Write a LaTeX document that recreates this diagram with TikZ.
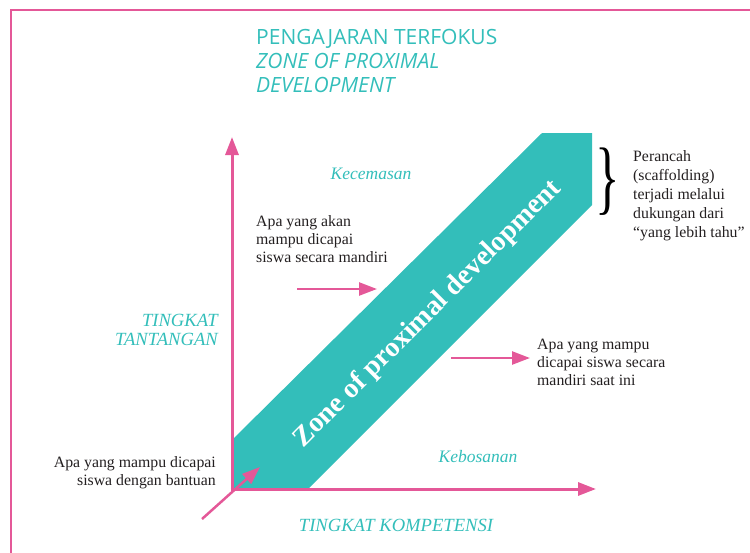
\documentclass[tikz,border=0pt]{standalone}
\usepackage{fontspec}
\setmainfont{Liberation Serif}
\newfontfamily\titlefont{Open Sans}
\usetikzlibrary{arrows.meta}
\definecolor{zpink}{RGB}{228,88,152}
\definecolor{zteal}{RGB}{51,190,186}
\definecolor{ztext}{RGB}{35,31,32}
\begin{document}
\begin{tikzpicture}[x=1pt,y=-1pt,
  axis/.style={draw=zpink,line width=3pt,-{Triangle[length=18pt,width=13pt]}},
  pointer/.style={draw=zpink,line width=2.5pt,-{Triangle[length=18pt,width=13pt]}},
  body/.style={text=ztext,font=\fontsize{15.8}{18}\selectfont,inner sep=0pt},
  tlabel/.style={text=zteal,font=\fontsize{17.5}{18.5}\selectfont\itshape,inner sep=0pt},
  caplabel/.style={text=zteal,font=\fontsize{18.6}{18.5}\selectfont\itshape,inner sep=0pt},
  titletext/.style={text=zteal,font=\titlefont\fontsize{21}{24}\selectfont,inner sep=0pt},
  bandtext/.style={text=white,font=\fontsize{28}{28}\selectfont\bfseries,inner sep=0pt},
]
\useasboundingbox (0,0) rectangle (750,552);
% frame
\draw[zpink,line width=2.5pt] (11,553) -- (11,10) -- (751,10);
% title
\node[titletext,anchor=north west,align=left] (title) at (256,29.5)
  {PENGAJARAN TERFOKUS\\{\itshape ZONE OF PROXIMAL}\\{\itshape DEVELOPMENT}};
% band
\fill[zteal] (232,440) -- (542,133) -- (592,133) -- (592,205) -- (308,489) -- (232,489) -- cycle;
\node[bandtext,rotate=45] (zpd) at (428,314) {Zone of proximal development};
% axes
\coordinate (O) at (232,489);
\coordinate (ytop) at (232,137);
\coordinate (xend) at (596,489);
\draw[axis] ([yshift=-1.5pt]O) -- (ytop);
\draw[axis] ([xshift=-1.5pt]O) -- (xend);
% labels
\node[tlabel] (kec) at (371,174) {Kecemasan};
\node[tlabel] (keb) at (478,457) {Kebosanan};
\node[caplabel] (xlab) at (396,525) {TINGKAT KOMPETENSI};
\node[caplabel,anchor=east,align=right] (ylab) at (218,330) {TINGKAT\\TANTANGAN};
% texts
\node[body,anchor=west,align=left] (t1) at (256,239) {Apa yang akan\\mampu dicapai\\siswa secara mandiri};
\node[body,anchor=west,align=left] (t2) at (537,362) {Apa yang mampu\\dicapai siswa secara\\mandiri saat ini};
\node[body,anchor=east,align=right] (t3) at (216,473) {Apa yang mampu dicapai\\siswa dengan bantuan};
\node[body,anchor=west,align=left,font=\fontsize{15.8}{19}\selectfont] (t4) at (633,196)
  {Perancah\\(scaffolding)\\terjadi melalui\\dukungan dari\\“yang lebih tahu”};
\node[text=black,inner sep=0pt] (brace) at (608,182) {\scalebox{1}[1.6]{\fontsize{51}{51}\selectfont\}}};
% pointers
\coordinate (a1s) at (297,289); \coordinate (a1e) at (377,289);
\coordinate (a2s) at (451,358); \coordinate (a2e) at (530,358);
\coordinate (a3s) at (202,519); \coordinate (a3e) at (260,467);
\draw[pointer] (a1s) -- (a1e);
\draw[pointer] (a2s) -- (a2e);
\draw[pointer] (a3s) -- (a3e);
\end{tikzpicture}
\end{document}
